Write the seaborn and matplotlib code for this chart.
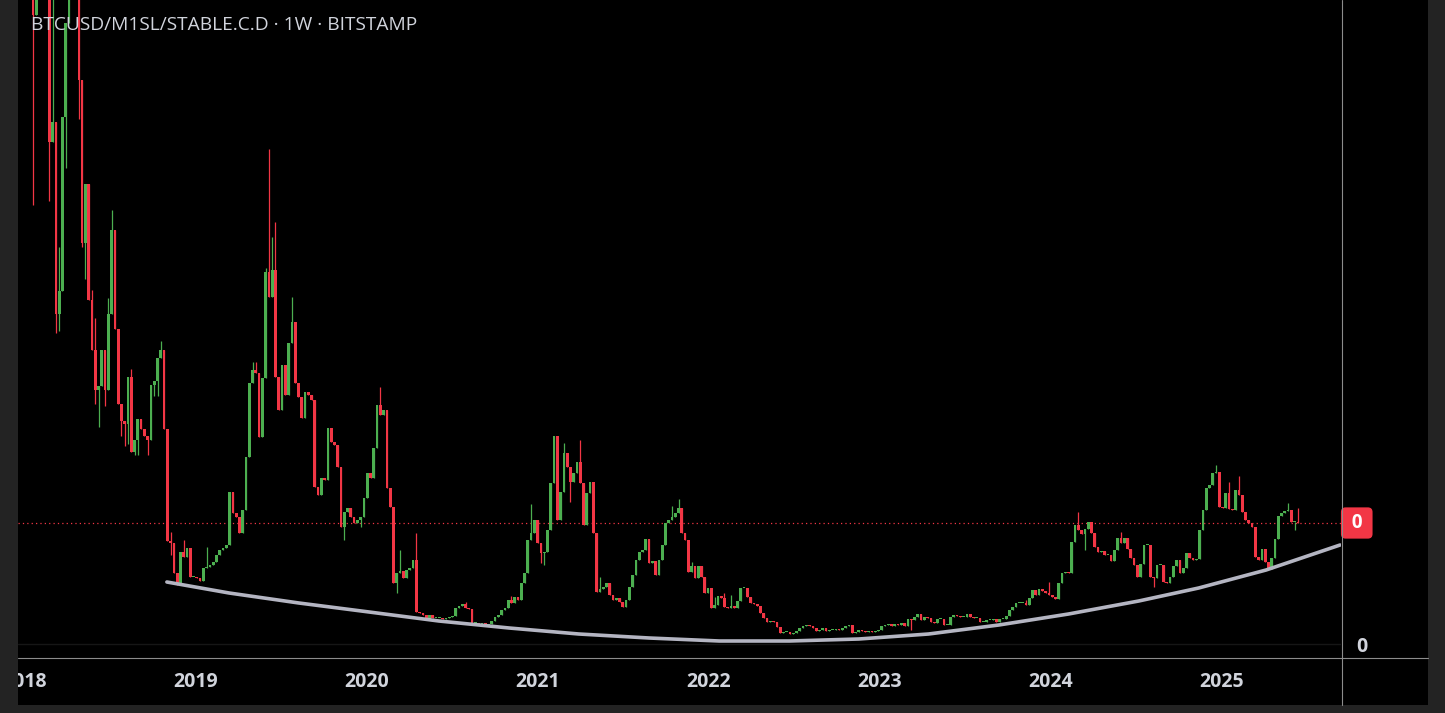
import numpy as np
import pandas as pd
import matplotlib
matplotlib.use("Agg")
import matplotlib.pyplot as plt
import matplotlib.dates as mdates
import matplotlib.transforms as mtransforms
from matplotlib.patches import Rectangle
from matplotlib.lines import Line2D
import seaborn as sns

# weekly candles, values in units of 1e-4
UNIT = 1e-4
start = "2018-01-19"
first_open = 705

close_part1 = [630, 675, 735, 705, 665, 503, 523, 331, 354, 528, 622, 650, 685, 655, 565, 402,
               461, 345, 295, 255, 259, 295, 255, 331, 415, 316, 241, 224, 221, 268, 193, 205,
               226, 216, 209, 205, 260, 264, 287, 295, 216, 104, 102, 72, 60, 93, 88, 97,
               68, 68, 67, 64, 77, 78, 80, 83, 90, 95, 97, 100, 153]
close_part2 = [132, 128, 112, 135, 188, 262, 275, 272, 208, 267, 373, 348, 375, 268, 235, 280,
               250, 302, 323, 262, 248, 227, 253, 250, 245, 158, 150, 167, 165, 217, 203, 200,
               178, 118, 133, 137, 128, 122, 125, 128, 147, 172, 167, 197, 240, 230, 235, 157,
               138, 62, 72, 74, 67, 75, 77, 85, 33, 32, 30, 25]
close_part3 = [30, 27, 27, 27, 26, 27, 28, 29, 37, 39, 41, 37, 36, 22, 22, 21, 22, 19, 21, 24,
               28, 30, 35, 37, 45, 42, 48, 45, 62, 72, 105, 112, 125, 102, 92, 93, 115, 162, 209, 125,
               153, 192, 178, 163, 172, 183, 162, 120, 152, 163, 112, 53, 56, 58, 62, 50, 45, 47, 43, 38,
               45, 58, 70, 85, 93, 95, 106, 82, 84, 70, 85, 100, 122, 125, 128, 132, 137, 112, 105, 73]
close_part4 = [79, 67, 79, 68, 52, 57, 37, 40, 49, 47, 38, 37, 39, 37, 44, 57, 57, 48, 42, 41,
               39, 32, 27, 23, 24, 23, 18, 12, 13, 13, 11, 12, 14, 17, 19, 20, 19, 17, 14, 15,
               17, 14, 15, 15, 16, 15, 17, 19, 20, 12, 13, 15, 14, 13, 14, 13, 14, 15, 19, 20,
               21, 19, 21, 20, 22, 19, 26, 25, 28, 31, 25, 28, 27, 23, 22]
close_part5 = [26, 26, 20, 20, 28, 30, 29, 28, 28, 31, 28, 27, 27, 23, 23, 25, 25, 26, 23, 26,
               26, 29, 35, 38, 42, 42, 42, 40, 47, 55, 50, 56, 54, 52, 50, 48, 46, 62, 72, 73,
               72, 103, 120, 115, 111, 116, 123, 112, 98, 93, 94, 90, 90, 84, 95, 107, 102, 107, 96, 87,
               80, 68, 81, 100, 100, 68, 67, 80, 80, 63, 62, 68, 79, 85, 72, 77]
close_part6 = [92, 87, 85, 86, 115, 135, 157, 160, 172, 173, 138, 137, 152, 136, 135, 155, 150, 133,
               125, 122, 118, 88, 85, 96, 83, 76, 87, 106, 129, 132, 134, 135, 123, 123, 122]

# per part: candle index -> (high, low) where the wick reaches past the body
wicks_part1 = {
    0: (720, 440), 5: (None, 444), 6: (665, None), 7: (None, 312), 8: (398, 314),
    10: (None, 477), 14: (None, 526), 15: (None, 398), 16: (None, 366), 18: (355, None),
    19: (327, 241), 20: (None, 218), 22: (None, 239), 23: (347, None), 24: (435, None),
    27: (None, 209), 28: (None, 199), 29: (None, 201), 30: (276, None), 31: (None, 190),
    32: (None, 190), 35: (None, 190), 37: (None, 249), 38: (None, 249), 39: (304, None),
    42: (113, 90), 46: (105, None), 53: (98, None),
}
wicks_part2 = {
    6: (283, None), 7: (283, None), 10: (377, None), 11: (496, None), 12: (408, None),
    13: (423, None), 18: (348, None), 34: (None, 105), 39: (None, 118), 45: (258, None),
    50: (None, 52), 51: (95, None), 56: (112, None),
}
wicks_part3 = {
    11: (43, None), 25: (49, None), 31: (141, None), 34: (None, 82), 35: (None, 80),
    41: (202, None), 43: (None, 143), 46: (205, None), 52: (68, None), 74: (139, None),
    76: (146, None),
}
wicks_part4 = {0: (83, None), 7: (48, None), 10: (52, None), 12: (50, None), 67: (None, 15)}
wicks_part5 = {27: (45, None), 34: (63, None), 43: (133, None), 45: (None, 95), 56: (113, None),
               66: (None, 58)}
wicks_part6 = {9: (180, None), 13: (163, None), 16: (169, None), 31: (142, None),
               33: (None, 115), 34: (137, None)}

# rounded support arc drawn under the lows
curve_dates = ["2018-11-01", "2019-03-14", "2019-08-10", "2020-01-07", "2020-06-04", "2020-11-01",
               "2021-03-30", "2021-08-27", "2022-01-24", "2022-06-23", "2022-11-18", "2023-04-16",
               "2023-09-13", "2024-02-09", "2024-07-08", "2024-11-13", "2025-04-06", "2025-09-11"]
curve_vals = [63, 52, 42, 33, 24, 17, 11, 7, 4, 4, 6, 11, 20, 31, 44, 57, 75, 100]

title = "BTCUSD/M1SL/STABLE.C.D · 1W · BITSTAMP"

UP = "#4caf50"
DOWN = "#f23645"
TXT = "#d1d4dc"
BG = "#232323"

parts = [close_part1, close_part2, close_part3, close_part4, close_part5, close_part6]
wick_parts = [wicks_part1, wicks_part2, wicks_part3, wicks_part4, wicks_part5, wicks_part6]

close = np.array(sum(parts, []), float)
opn = np.concatenate([[first_open], close[:-1]])
high = np.maximum(opn, close)
low = np.minimum(opn, close)
offset = 0
for part, wk in zip(parts, wick_parts):
    for i, (h, l) in wk.items():
        if h is not None:
            high[offset + i] = h
        if l is not None:
            low[offset + i] = l
    offset += len(part)

weeks = pd.date_range(start, periods=len(close), freq="7D")
df = pd.DataFrame({"date": weeks, "open": opn * UNIT, "close": close * UNIT,
                   "high": high * UNIT, "low": low * UNIT})
df["x"] = mdates.date2num(df["date"])
df["up"] = df["close"] >= df["open"]

sns.set_theme(style="dark", rc={"axes.facecolor": "black", "figure.facecolor": BG})
plt.rcParams["font.family"] = ["Open Sans", "DejaVu Sans"]

W, H = 1445, 713
fig = plt.figure(figsize=(W / 100, H / 100), dpi=100)
fig.patch.set_facecolor(BG)
fig.add_artist(Rectangle((18 / W, (H - 705) / H), 1410 / W, 705 / H, transform=fig.transFigure,
                         facecolor="black", edgecolor="none", zorder=-1))

ax = fig.add_axes([18 / W, (H - 658) / H, 1323 / W, 658 / H])
ax.set_facecolor("black")

colors = np.where(df["up"], UP, DOWN)
ax.vlines(df["x"], df["low"], df["high"], colors=colors, linewidth=0.9, zorder=2)
body = np.maximum((df["close"] - df["open"]).abs(), 1.5 * UNIT)
ax.bar(df["x"], body, bottom=np.minimum(df["open"], df["close"]), width=5.8,
       color=colors, edgecolor="none", zorder=3)

curve = pd.DataFrame({"date": mdates.date2num(pd.to_datetime(curve_dates)),
                      "val": np.array(curve_vals) * UNIT})
sns.lineplot(data=curve, x="date", y="val", ax=ax, color="#b4b5c2", linewidth=2.6,
             zorder=4, solid_capstyle="round")

last = df["close"].iloc[-1]
ax.axhline(last, color=DOWN, linestyle=(0, (1, 2.5)), linewidth=0.9, zorder=1)
ax.axhline(1 * UNIT, color="#161616", linewidth=1, zorder=0)

x0 = mdates.date2num(pd.Timestamp("2018-01-15")) - 28
x1 = mdates.date2num(pd.Timestamp("2018-01-15")) + 2798
ax.set_xlim(x0, x1)
ax.set_ylim(-13 * UNIT, 645 * UNIT)

ax.xaxis.set_major_locator(mdates.YearLocator())
ax.xaxis.set_major_formatter(mdates.DateFormatter("%Y"))
ax.yaxis.tick_right()
ax.set_yticks([0])
ax.set_yticklabels(["0"])
ax.tick_params(axis="x", length=0, pad=10, labelsize=14, labelcolor=TXT)
ax.tick_params(axis="y", length=0, pad=11, labelsize=14, labelcolor=TXT)
for lab in ax.get_xticklabels() + ax.get_yticklabels():
    lab.set_fontweight("bold")
ax.set_xlabel("")
ax.set_ylabel("")
ax.grid(False)
for s in ax.spines.values():
    s.set_visible(False)

# last price tag on the price scale
trans = mtransforms.blended_transform_factory(ax.transAxes, ax.transData)
ax.text(1.0042, last, " 0 ", transform=trans, ha="left", va="center", color="white",
        fontsize=13.5, fontweight="bold", clip_on=False,
        bbox=dict(boxstyle="round,pad=0.3,rounding_size=0.25", facecolor=DOWN, edgecolor="none"))

ax.text(13 / 1323, 1 - 25 / 658, title, transform=ax.transAxes, ha="left", va="center",
        color=TXT, fontsize=13.8, zorder=6)

# pane separators
fig.add_artist(Line2D([18 / W, 1428 / W], [(H - 658) / H] * 2, transform=fig.transFigure,
                      color="#8c8c8c", linewidth=0.8, zorder=5))
fig.add_artist(Line2D([1341.5 / W] * 2, [(H - 705) / H, 1], transform=fig.transFigure,
                      color="#8c8c8c", linewidth=0.8, zorder=5))
# left frame strip hides the clipped 2018 label
fig.add_artist(Rectangle((0, 0), 18 / W, 1, transform=fig.transFigure,
                         facecolor=BG, edgecolor="none", zorder=10))

fig.savefig("out.png", dpi=100, facecolor=BG)
